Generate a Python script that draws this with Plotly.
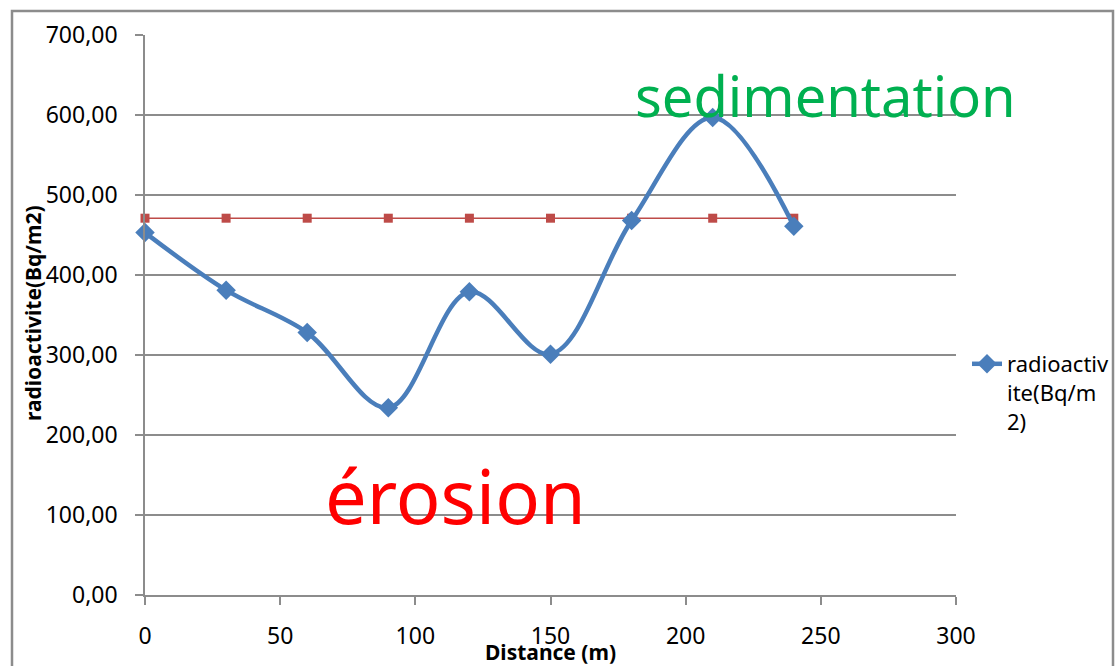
import plotly.graph_objects as go

distance = [0, 30, 60, 90, 120, 150, 180, 210, 240]
radioactivite = [453, 381, 328, 234, 379, 301, 468, 597, 461]
reference = [471, 471, 471, 471, 471, 471, 471, 471, 471]
x_ticks = [0, 50, 100, 150, 200, 250, 300]
y_ticks = [0, 100, 200, 300, 400, 500, 600, 700]

FONT = "Noto Sans"
GRID = "#8c8c8c"

fig = go.Figure()
fig.add_trace(go.Scatter(
    x=distance, y=reference, mode="lines+markers", showlegend=False,
    line=dict(color="#BE4B48", width=1.6),
    marker=dict(symbol="square", size=9, color="#BE4B48"),
    cliponaxis=False,
))
fig.add_trace(go.Scatter(
    x=distance, y=radioactivite, mode="lines+markers",
    name="radioactiv<br>ite(Bq/m<br>2)",
    line=dict(color="#4A7EBB", width=4.5, shape="spline", smoothing=1),
    marker=dict(symbol="diamond", size=15, color="#4A7EBB"),
    cliponaxis=False,
))

L, R, T, B = 145, 162, 35, 71
W, H = 1118, 666
pw, ph = W - L - R, H - T - B

def px_x(p):
    return (p - L) / pw

def px_y(p):
    return (H - B - p) / ph

fig.update_layout(
    width=W, height=H,
    margin=dict(l=L, r=R, t=T, b=B, autoexpand=False),
    paper_bgcolor="white", plot_bgcolor="white",
    separators=", ",
    font=dict(family=FONT, size=20, color="black"),
    xaxis=dict(
        range=[0, 300], tickvals=x_ticks, showgrid=False, zeroline=False,
        showline=True, linecolor=GRID, linewidth=1.5,
        ticks="outside", ticklen=8, tickcolor=GRID, tickwidth=1.5,
        tickfont=dict(size=23, family=FONT), ticklabelstandoff=12,
    ),
    yaxis=dict(
        range=[0, 700], tickvals=y_ticks, tickformat=".2f",
        showgrid=True, gridcolor=GRID, gridwidth=1.5, zeroline=False,
        showline=True, linecolor=GRID, linewidth=1.5,
        ticks="outside", ticklen=8, tickcolor=GRID, tickwidth=1.5,
        tickfont=dict(size=23, family=FONT), ticklabelstandoff=13,
    ),
    legend=dict(
        x=px_x(967), y=px_y(343), xanchor="left", yanchor="top",
        font=dict(size=22, family=FONT), bgcolor="rgba(0,0,0,0)",
        tracegroupgap=0, itemwidth=30, valign="top",
    ),
    showlegend=True,
)

fig.add_annotation(
    x=px_x(33), y=px_y(313), xref="paper", yref="paper",
    xanchor="center", yanchor="middle",
    text="<b>radioactivite(Bq/m2)</b>", textangle=-90, showarrow=False,
    font=dict(size=21, family=FONT),
)
fig.add_annotation(
    x=px_x(550), y=px_y(652), xref="paper", yref="paper",
    xanchor="center", yanchor="middle",
    text="<b>Distance (m)</b>", showarrow=False,
    font=dict(size=21, family=FONT),
)
fig.add_annotation(
    x=px_x(825), y=px_y(95), xref="paper", yref="paper",
    xanchor="center", yanchor="middle",
    text="sedimentation", showarrow=False,
    font=dict(size=56, family=FONT, color="#00B050"),
)
fig.add_annotation(
    x=px_x(455), y=px_y(495), xref="paper", yref="paper",
    xanchor="center", yanchor="middle",
    text="érosion", showarrow=False,
    font=dict(size=74, family=FONT, color="#FF0000"),
)

fig.add_shape(
    type="rect", xref="paper", yref="paper",
    x0=px_x(12), x1=px_x(1113), y0=px_y(720), y1=px_y(11),
    line=dict(color="#8c8c8c", width=2.5), layer="below",
)

fig.write_html("out.html")
